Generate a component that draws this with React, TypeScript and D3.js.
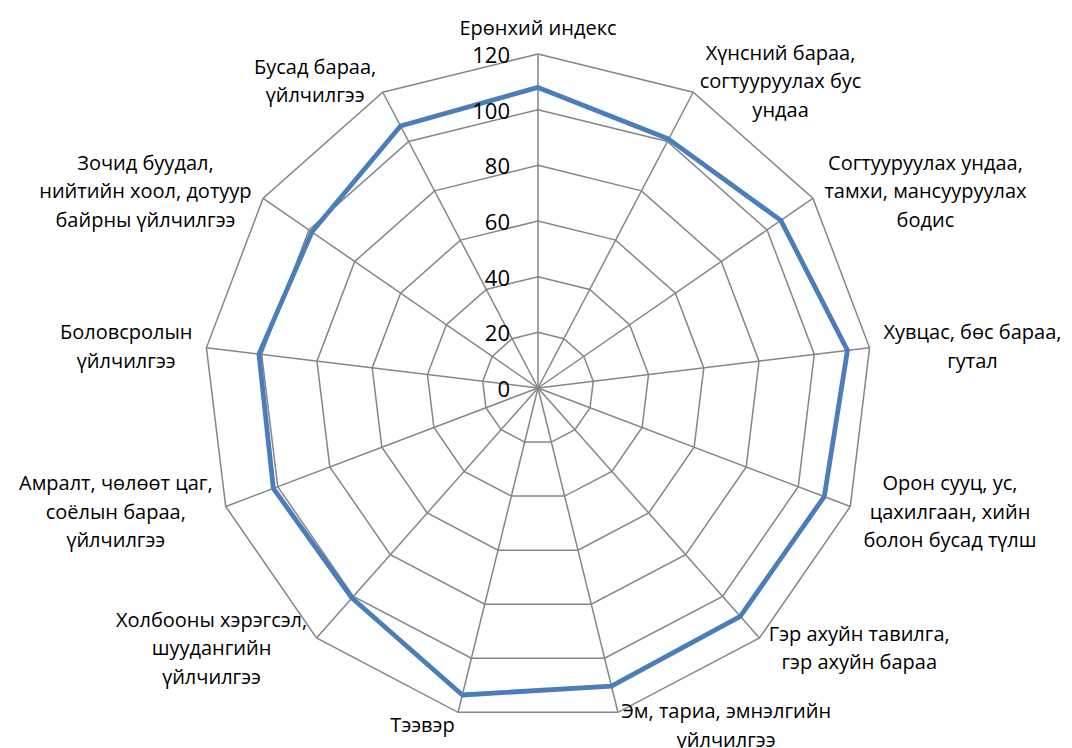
import React from "react";
import * as d3 from "d3";

const categories: string[] = [
  "Ерөнхий индекс",
  "Хүнсний бараа,\nсогтууруулах бус\nундаа",
  "Согтууруулах ундаа,\nтамхи, мансууруулах\nбодис",
  "Хувцас, бөс бараа,\nгутал",
  "Орон сууц, ус,\nцахилгаан, хийн\nболон бусад түлш",
  "Гэр ахуйн тавилга,\nгэр ахуйн бараа",
  "Эм, тариа, эмнэлгийн\nүйлчилгээ",
  "Тээвэр",
  "Холбооны хэрэгсэл,\nшуудангийн\nүйлчилгээ",
  "Амралт, чөлөөт цаг,\nсоёлын бараа,\nүйлчилгээ",
  "Боловсролын\nүйлчилгээ",
  "Зочид буудал,\nнийтийн хоол, дотуур\nбайрны үйлчилгээ",
  "Бусад бараа,\nүйлчилгээ",
];

const indexValues: number[] = [108, 101, 106, 112, 110, 109.6, 110.3, 113.6, 100.8, 101.7, 101, 98.7, 106.3];

const tickValues: number[] = [0, 20, 40, 60, 80, 100, 120];

const W = 1072;
const H = 748;
const CX = 538;
const CY = 388;
const R = 334;
const LABEL_FONT = 20;
const LINE_H = 28.5;
const FONT_FAMILY = '"Open Sans", "Noto Sans", sans-serif';

let measureCtx: CanvasRenderingContext2D | null = null;
function textWidth(s: string, size: number): number {
  if (!measureCtx) {
    const c = document.createElement("canvas");
    measureCtx = c.getContext("2d");
  }
  if (!measureCtx) return s.length * size * 0.55;
  measureCtx.font = `${size}px "Open Sans"`;
  return measureCtx.measureText(s).width;
}

export default function App() {
  const n = categories.length;
  const r = d3.scaleLinear().domain([0, 120]).range([0, R]);
  const angle = (i: number) => (i * 2 * Math.PI) / n;
  const pt = (i: number, v: number): [number, number] => [
    CX + r(v) * Math.sin(angle(i)),
    CY - r(v) * Math.cos(angle(i)),
  ];

  const closed = d3.line<[number, number]>().curve(d3.curveLinearClosed);

  const gridPolys = tickValues
    .filter((t) => t > 0)
    .map((t) => closed(categories.map((_, i) => pt(i, t))) || "");

  const seriesPath = closed(indexValues.map((v, i) => pt(i, v))) || "";

  const labels = categories.map((c, i) => {
    const lines = c.split("\n");
    const a = angle(i);
    const s = Math.sin(a);
    const co = Math.cos(a);
    const [vx, vy] = pt(i, 120);
    const w = Math.max(...lines.map((l) => textWidth(l, LABEL_FONT)));
    const h = lines.length * LINE_H;
    let cx: number;
    let cy: number;
    if (Math.abs(s) < 0.01) {
      cx = vx;
      cy = vy - co * (h / 2 + 12);
    } else {
      const gap = 14 * Math.abs(s);
      cx = s > 0 ? vx + gap + w / 2 : vx - gap - w / 2;
      cy = vy - 13 * co;
    }
    const y0 = cy - h / 2 + LINE_H / 2;
    return { lines, cx, y0, key: i };
  });

  return (
    <div style={{ position: "fixed", left: 0, top: 0, width: W, height: H, background: "#fff" }}>
      <svg width={W} height={H} style={{ display: "block", fontFamily: FONT_FAMILY }}>
        <rect x={0} y={0} width={W} height={H} fill="#fff" />
        <g fill="none" stroke="#868686" strokeWidth={1.5}>
          {gridPolys.map((d, k) => (
            <path key={k} d={d} />
          ))}
          {categories.map((_, i) => {
            const [x, y] = pt(i, 120);
            return <line key={i} x1={CX} y1={CY} x2={x} y2={y} />;
          })}
        </g>
        <path d={seriesPath} fill="none" stroke="#4a7ebb" strokeWidth={4.8} strokeLinejoin="round" />
        <g fontSize={22} fill="#000" textAnchor="end">
          {tickValues.map((t) => (
            <text key={t} x={CX - 28} y={CY - r(t)} dominantBaseline="central">
              {t}
            </text>
          ))}
        </g>
        <g fontSize={LABEL_FONT} fill="#000" textAnchor="middle">
          {labels.map((lb) => (
            <text key={lb.key}>
              {lb.lines.map((l, j) => (
                <tspan key={j} x={lb.cx} y={lb.y0 + j * LINE_H} dominantBaseline="central">
                  {l}
                </tspan>
              ))}
            </text>
          ))}
        </g>
      </svg>
    </div>
  );
}
